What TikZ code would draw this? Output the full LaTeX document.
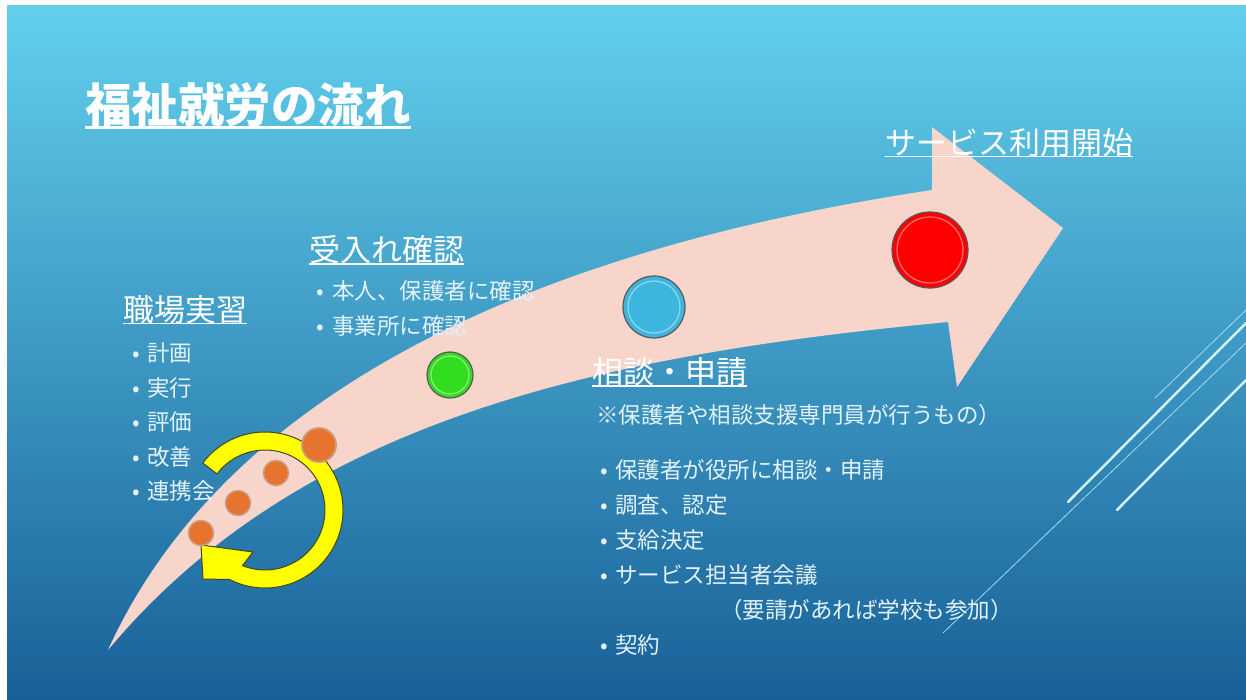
\documentclass[tikz,border=0pt]{standalone}
\usepackage{fontspec}
\setmainfont{Noto Sans CJK JP}
\usepackage{tikz}
\usetikzlibrary{calc}

\definecolor{fondoarriba}{RGB}{98,208,237}
\definecolor{fondomedio}{RGB}{44,146,200}
\definecolor{fondoabajo}{RGB}{24,96,152}
\definecolor{rosa}{RGB}{247,213,203}
\definecolor{textoclaro}{RGB}{228,242,249}
\definecolor{lineaclara}{RGB}{210,242,252}
\definecolor{lineafina}{RGB}{160,220,242}
\definecolor{naranja}{RGB}{230,116,46}
\definecolor{bordenaranja}{RGB}{205,155,130}
\definecolor{amarillo}{RGB}{255,255,0}
\definecolor{oliva}{RGB}{70,70,30}

\begin{document}
\begin{tikzpicture}[x=1pt, y=-1pt,
  every node/.style={inner sep=0pt, text=white, anchor=west},
  heading/.style={font=\fontsize{31}{31}\selectfont},
  item/.style={font=\fontsize{22.5}{22.5}\selectfont, text=textoclaro},
  ball/.style={circle, anchor=center, draw=black!65, line width=1.2pt},
  gloss/.style={draw=white, opacity=0.45, line width=1.2pt},
  uline/.style={draw=white, line width=1.5pt}]
  \useasboundingbox (0,0) rectangle (1246,700);

  % Fondo
  \fill[white] (0,0) rectangle (1246,700);
  \shade[top color=fondoarriba, middle color=fondomedio, bottom color=fondoabajo] (7,6) rectangle (1246,700);
  \draw[lineaclara, line width=2.5pt, line cap=round] (1068,502) -- (1246,323);
  \draw[lineaclara, line width=2.5pt, line cap=round] (1117,510) -- (1246,380);
  \draw[lineafina, line width=0.8pt] (1155,398) -- (1246,310);
  \draw[lineafina, line width=0.8pt] (943,633) -- (1246,343);

  % Flecha
  \fill[rosa] (108,650) .. controls (240,360) and (600,240) .. (932,190)
    -- (932,127) -- (1063,228) -- (957,387) -- (948,322)
    .. controls (600,355) and (300,420) .. (108,650) -- cycle;

  % Circulos
  \node[ball, fill={rgb,255:red,50;green,220;blue,30}, minimum size=46pt] (green) at (450,375) {};
  \node[ball, fill={rgb,255:red,60;green,182;blue,222}, minimum size=62pt] (blue) at (654,307) {};
  \node[ball, fill=red, minimum size=76pt] (red) at (930,250) {};
  \draw[gloss] (green) circle[radius=19];
  \draw[gloss] (blue) circle[radius=26];
  \draw[gloss] (red) circle[radius=33];

  % Flecha circular
  \coordinate (c) at (265,510);
  \draw[fill=amarillo, draw=oliva, line width=1pt]
    ($(c)+(-143:60)$) arc[start angle=-143, end angle=112, radius=60]
    -- (253,552) -- (201,545) -- (203,579)
    -- ($(c)+(117:78)$) arc[start angle=117, end angle=-143, radius=78] -- cycle;

  \node[ball, fill=naranja, draw=bordenaranja, line width=1.8pt, minimum size=34pt] (o1) at (319,445) {};
  \node[ball, fill=naranja, draw=bordenaranja, line width=1.5pt, minimum size=25pt] (o2) at (276,473) {};
  \node[ball, fill=naranja, draw=bordenaranja, line width=1.5pt, minimum size=25pt] (o3) at (238,503) {};
  \node[ball, fill=naranja, draw=bordenaranja, line width=1.5pt, minimum size=25pt] (o4) at (201,533) {};

  % Titulo
  \node[font=\fontsize{46.5}{46.5}\selectfont\bfseries] (title) at (85,105) {福祉就労の流れ};
  \draw[uline, line width=2.5pt] ([yshift=-5pt]title.base west) -- ([yshift=-5pt]title.base east);

  % Encabezados
  \node[heading] (h1) at (123,310) {職場実習};
  \node[heading] (h2) at (309,250) {受入れ確認};
  \node[heading] (h3) at (592,372) {相談・申請};
  \node[heading] (h4) at (885,143) {サービス利用開始};
  \draw[uline] ([yshift=-2pt]h1.base west) -- ([yshift=-2pt]h1.base east);
  \draw[uline] ([yshift=-2pt]h2.base west) -- ([yshift=-2pt]h2.base east);
  \draw[uline] ([yshift=-2pt]h3.base west) -- ([yshift=-2pt]h3.base east);
  \draw[uline] ([yshift=-2pt]h4.base west) -- ([yshift=-2pt]h4.base east);

  % Textos
  \node[item] (a1) at (132,353) {\makebox[15pt][l]{•}計画};
  \node[item] (a2) at (132,388) {\makebox[15pt][l]{•}実行};
  \node[item] (a3) at (132,422) {\makebox[15pt][l]{•}評価};
  \node[item] (a4) at (132,457) {\makebox[15pt][l]{•}改善};
  \node[item] (a5) at (132,491) {\makebox[15pt][l]{•}連携会};

  \node[item] (b1) at (316,291) {\makebox[16pt][l]{•}本人、保護者に確認};
  \node[item] (b2) at (316,326) {\makebox[16pt][l]{•}事業所に確認};

  \node[item] (n0) at (596,415) {※保護者や相談支援専門員が行うもの）};
  \node[item] (d1) at (600,470) {\makebox[15pt][l]{•}保護者が役所に相談・申請};
  \node[item] (d2) at (600,505) {\makebox[15pt][l]{•}調査、認定};
  \node[item] (d3) at (600,540) {\makebox[15pt][l]{•}支給決定};
  \node[item] (d4) at (600,575) {\makebox[15pt][l]{•}サービス担当者会議};
  \node[item] (d5) at (720,610) {（要請があれば学校も参加）};
  \node[item] (d6) at (600,645) {\makebox[15pt][l]{•}契約};
\end{tikzpicture}
\end{document}
